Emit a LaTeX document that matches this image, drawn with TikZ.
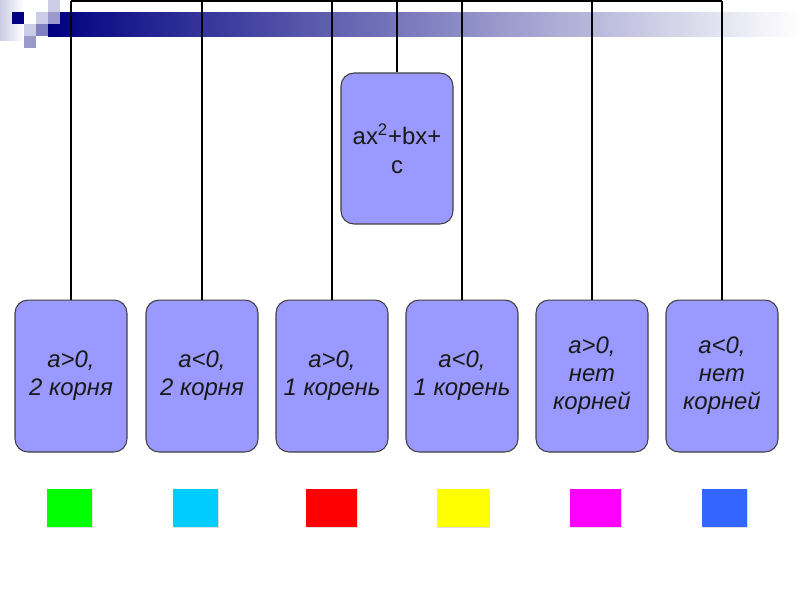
\documentclass[tikz,border=0pt]{standalone}
\usepackage{fontspec}
\setmainfont{Liberation Sans}
\usetikzlibrary{shadows}
\definecolor{boxfill}{RGB}{153,153,255}
\definecolor{boxline}{RGB}{64,64,64}
\definecolor{navybar}{RGB}{0,0,128}
\definecolor{lavlight}{RGB}{204,204,230}
\definecolor{lavmid}{RGB}{153,153,204}
\definecolor{lavdark}{RGB}{128,128,192}
\definecolor{swgreen}{RGB}{0,255,0}
\definecolor{swcyan}{RGB}{0,204,255}
\definecolor{swred}{RGB}{255,0,0}
\definecolor{swyellow}{RGB}{255,255,0}
\definecolor{swmagenta}{RGB}{255,0,255}
\definecolor{swblue}{RGB}{51,102,255}

\begin{document}
\begin{tikzpicture}[x=0.02cm, y=-0.02cm]
	\tikzset{casebox/.style={draw=boxline, fill=boxfill, line width=0.6pt, rounded corners=0.26cm, minimum width=2.24cm, minimum height=3.04cm, align=center, text=black!90, font=\fontsize{13.6}{15.9}\selectfont\itshape}}
	\tikzset{rootbox/.style={casebox, minimum height=3.02cm, font=\fontsize{13.6}{16.4}\selectfont}}
	\tikzset{swatch/.style={minimum height=0.76cm, inner sep=0pt, drop shadow={shadow xshift=0.6pt, shadow yshift=-0.6pt, opacity=0.25}}}
	\tikzset{wire/.style={line width=1pt, black}}
	\useasboundingbox (0,0) rectangle (800,600);
	\shade[left color=lavlight, right color=white] (0,0) rectangle (24,40);
	\shade[left color=navybar, right color=white] (48,12) rectangle (800,36);
	\fill[navybar] (12,12) rectangle (24,24);
	\fill[lavlight] (48,0) rectangle (60,12);
	\fill[lavlight] (36,12) rectangle (48,24);
	\fill[lavmid] (48,12) rectangle (60,24);
	\fill[lavlight] (24,24) rectangle (36,36);
	\fill[lavdark] (36,24) rectangle (48,36);
	\fill[lavmid] (24,36) rectangle (36,48);
	\node[rootbox] (root) at (397,148.5) {ax\textsuperscript{2}+bx+\\c};
	\node[casebox] (c1) at (71,376)  {a>0,\\2 корня};
	\node[casebox] (c2) at (202,376) {a<0,\\2 корня};
	\node[casebox] (c3) at (332,376) {a>0,\\1 корень};
	\node[casebox] (c4) at (462,376) {a<0,\\1 корень};
	\node[casebox] (c5) at (592,376) {a>0,\\нет\\корней};
	\node[casebox] (c6) at (722,376) {a<0,\\нет\\корней};
	\foreach \i/\x in {1/71, 2/202, 3/332, 4/462, 5/592, 6/722}
	\coordinate (t\i) at (\x,1.2);
	\coordinate (t0) at (root.north |- t1);
	\draw[wire] (t1) -- (t6);
	\draw[wire] (t0) -- (root);
	\foreach \i in {1,...,6}
	\draw[wire] (t\i) -- (c\i);
	\foreach \i/\x/\w/\col in {1/69.5/0.9/swgreen, 2/195.5/0.9/swcyan, 3/331.5/1.02/swred, 4/463/1.04/swyellow, 5/595.5/1.02/swmagenta, 6/724.5/0.9/swblue}
	\node[swatch, fill=\col, minimum width=\w cm] (s\i) at (\x,508) {};
\end{tikzpicture}
\end{document}
